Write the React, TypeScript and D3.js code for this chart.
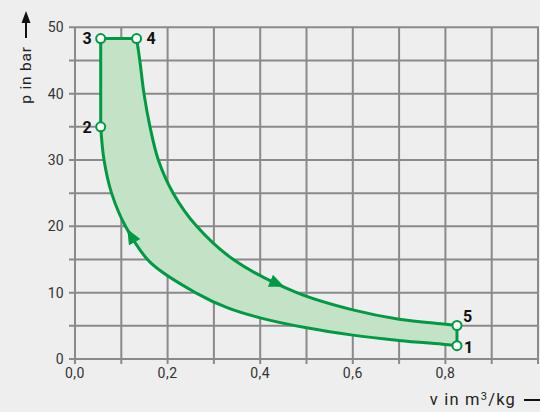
import React from "react";
import * as d3 from "d3";

// state points [v (m^3/kg), p (bar)]
const stateLabels = ["1", "2", "3", "4", "5"];
const stateV = [0.825, 0.0555, 0.0555, 0.133, 0.825];
const stateP = [2.0, 35.0, 48.3, 48.3, 5.05];

// compression curve 2 -> 1
const compV = [0.0555, 0.0627, 0.079, 0.109, 0.162, 0.263, 0.33, 0.4, 0.5, 0.6, 0.7, 0.8, 0.825];
const compP = [35.0, 30.0, 25.0, 20.0, 14.6, 9.9, 7.7, 6.2, 4.7, 3.6, 2.8, 2.18, 2.0];

// expansion curve 4 -> 5
const expV = [0.133, 0.14, 0.149, 0.162, 0.18, 0.212, 0.263, 0.342, 0.479, 0.6, 0.7, 0.8, 0.825];
const expP = [48.3, 45.0, 40.0, 35.0, 30.0, 25.0, 20.0, 15.0, 10.0, 7.4, 6.0, 5.25, 5.05];

// direction arrows on the curves (tip position)
const arrowCurve = ["comp", "exp"];
const arrowV = [0.113, 0.452];
const arrowP = [19.6, 10.9];
const arrowReverse = [true, false];

const xGrid = d3.range(0, 11).map((i) => i / 10);
const yGrid = d3.range(0, 11).map((i) => i * 5);
const xTickLabels = [0, 0.2, 0.4, 0.6, 0.8];
const yTickLabels = [0, 10, 20, 30, 40, 50];

const W = 540;
const H = 412;
const GREEN = "#009a44";
const FILL = "#c4e2c6";
const GRID = "#8a8a8a";
const FONT = "Roboto, 'Liberation Sans', sans-serif";

export default function App() {
  const x = d3.scaleLinear().domain([0, 1]).range([75, 538]);
  const y = d3.scaleLinear().domain([0, 50]).range([359, 27.3]);

  const compPts: [number, number][] = compV.map((v, i) => [x(v), y(compP[i])]);
  const expPts: [number, number][] = expV.map((v, i) => [x(v), y(expP[i])]);

  const line = d3.line().curve(d3.curveCatmullRom.alpha(0.5));
  const expD = line(expPts) as string;
  const compRevD = (line(compPts.slice().reverse()) as string).replace(/^M/, "L");
  const p3 = [x(stateV[2]), y(stateP[2])];
  const outline = `${expD}L${x(stateV[0])},${y(stateP[0])}${compRevD}L${p3[0]},${p3[1]}Z`;

  const arrows = arrowV.map((v, k) => {
    const pts = arrowCurve[k] === "comp" ? compPts : expPts;
    const tx = x(v);
    const ty = y(arrowP[k]);
    let best = 1;
    let bd = Infinity;
    pts.forEach((p, i) => {
      const d = (p[0] - tx) ** 2 + (p[1] - ty) ** 2;
      if (d < bd) {
        bd = d;
        best = i;
      }
    });
    const i0 = Math.max(0, best - 1);
    const i1 = Math.min(pts.length - 1, best + 1);
    let dx = pts[i1][0] - pts[i0][0];
    let dy = pts[i1][1] - pts[i0][1];
    if (arrowReverse[k]) {
      dx = -dx;
      dy = -dy;
    }
    const len = Math.hypot(dx, dy);
    const ux = dx / len;
    const uy = dy / len;
    const L = 15;
    const hw = 6.5;
    const bx = tx - ux * L;
    const by = ty - uy * L;
    return `M${tx},${ty}L${bx - uy * hw},${by + ux * hw}L${bx + uy * hw},${by - ux * hw}Z`;
  });

  const labelOffsets: [number, number, string][] = [
    [7, 7.5, "start"],
    [-9, 5.8, "end"],
    [-9, 5.6, "end"],
    [10, 5.6, "start"],
    [6, -3.5, "start"],
  ];

  return (
    <svg
      width={W}
      height={H}
      style={{ position: "absolute", left: 0, top: 0, display: "block" }}
      fontFamily={FONT}
    >
      <rect x={0} y={0} width={W} height={H} fill="#eeeeee" />
      {/* grid */}
      {xGrid.map((v) => (
        <line key={"vx" + v} x1={x(v)} x2={x(v)} y1={y(50)} y2={y(0) + 5} stroke={GRID} strokeWidth={2} />
      ))}
      {yGrid.map((p) => (
        <line key={"hy" + p} x1={x(0) - 6} x2={x(1) + 1} y1={y(p)} y2={y(p)} stroke={GRID} strokeWidth={2} />
      ))}
      {/* tick labels */}
      {yTickLabels.map((p) => (
        <text key={"yl" + p} x={64} y={y(p) + 5} textAnchor="end" fontSize={14} letterSpacing={0.3} fill="#333">
          {p}
        </text>
      ))}
      {xTickLabels.map((v) => (
        <text key={"xl" + v} x={x(v)} y={378} textAnchor="middle" fontSize={14} letterSpacing={0.5} fill="#333">
          {v.toFixed(1).replace(".", ",")}
        </text>
      ))}
      {/* cycle */}
      <path d={outline} fill={FILL} stroke={GREEN} strokeWidth={3} strokeLinejoin="round" />
      {arrows.map((d, i) => (
        <path key={"ar" + i} d={d} fill={GREEN} />
      ))}
      {stateV.map((v, i) => (
        <circle key={"pt" + i} cx={x(v)} cy={y(stateP[i])} r={4.5} fill="#fff" stroke={GREEN} strokeWidth={2} />
      ))}
      {stateLabels.map((s, i) => (
        <text
          key={"lb" + i}
          x={x(stateV[i]) + labelOffsets[i][0]}
          y={y(stateP[i]) + labelOffsets[i][1]}
          textAnchor={labelOffsets[i][2] as any}
          fontSize={16}
          fontWeight="bold"
          fill="#111"
        >
          {s}
        </text>
      ))}
      {/* axis titles */}
      <text transform="translate(31,75) rotate(-90)" textAnchor="middle" fontSize={15.5} letterSpacing={0.8} fill="#222">
        p in bar
      </text>
      <line x1={26} x2={26} y1={38} y2={20} stroke="#111" strokeWidth={2} />
      <path d="M26,11L21.5,23L30.5,23Z" fill="#111" />
      <text x={516} y={405} textAnchor="end" fontSize={16.5} letterSpacing={1.2} fill="#222">
        v in m<tspan dy={-5.5} fontSize={11}>3</tspan>
        <tspan dy={5.5}>/kg</tspan>
      </text>
      <line x1={524} x2={540} y1={400} y2={400} stroke="#111" strokeWidth={2} />
    </svg>
  );
}
